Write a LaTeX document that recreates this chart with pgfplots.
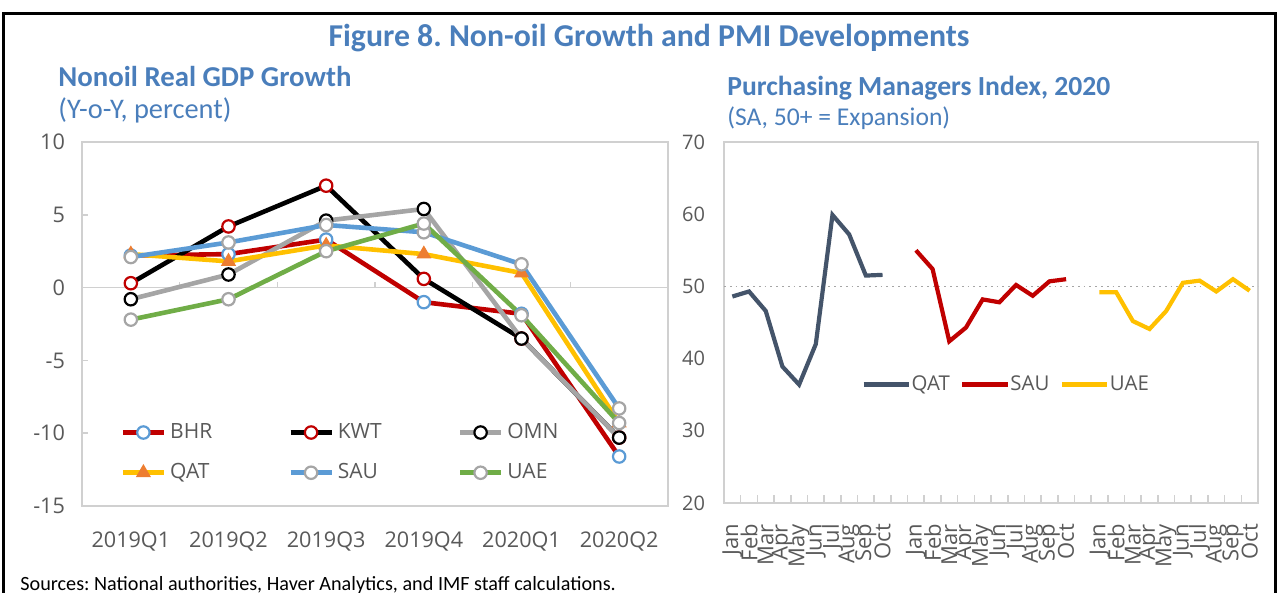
\documentclass[border=0pt]{standalone}
\usepackage{fontspec}
\setmainfont{Carlito}
\newfontfamily\segoe{Open Sans}
\usepackage{pgfplots}
\pgfplotsset{compat=1.18}
\definecolor{titleblue}{HTML}{4A7EBB}
\definecolor{axisgray}{HTML}{D0D0D0}
\definecolor{ticktext}{HTML}{595959}
\definecolor{cRed}{HTML}{C00000}
\definecolor{cBlue}{HTML}{5B9BD5}
\definecolor{cGray}{HTML}{A5A5A5}
\definecolor{cYellow}{HTML}{FFC000}
\definecolor{cOrange}{HTML}{ED7D31}
\definecolor{cGreen}{HTML}{70AD47}
\definecolor{cSlate}{HTML}{44546A}
\frenchspacing
\begin{document}
\begin{tikzpicture}
\useasboundingbox (0,0) rectangle (639pt,-296.5pt);
\draw[line width=1.5pt] (1.5pt,-305pt) -- (1.5pt,-7pt) -- (637.5pt,-7pt) -- (637.5pt,-305pt);
\node[anchor=base, text=titleblue, font=\fontsize{15.9}{18}\selectfont\bfseries] at (324.5pt,-23.5pt) {Figure 8. Non-oil Growth and PMI Developments};
\node[anchor=base west, inner sep=0pt, text=titleblue, font=\fontsize{14.4}{16}\selectfont\bfseries] at (29pt,-43.5pt) {Nonoil Real GDP Growth};
\node[anchor=base west, inner sep=0pt, text=titleblue, font=\fontsize{14.2}{16}\selectfont] at (29pt,-59.5pt) {(Y-o-Y, percent)};
\node[anchor=base west, inner sep=0pt, text=titleblue, font=\fontsize{13.8}{16}\selectfont\bfseries] at (363.5pt,-48pt) {Purchasing Managers Index, 2020};
\node[anchor=base west, inner sep=0pt, text=titleblue, font=\fontsize{12.8}{14}\selectfont] at (363.5pt,-63pt) {(SA, 50+ = Expansion)};
\node[anchor=base west, inner sep=0pt, font=\fontsize{10.1}{12}\selectfont] at (10pt,-295pt) {Sources: National authorities, Haver Analytics, and IMF staff calculations.};

\begin{axis}[
  at={(41pt,-253pt)}, anchor=south west, scale only axis,
  width=293pt, height=182pt,
  xmin=-0.5, xmax=5.5, ymin=-15, ymax=10,
  xtick={0,...,5},
  xticklabels={2019Q1,2019Q2,2019Q3,2019Q4,2020Q1,2020Q2},
  ytick={-15,-10,...,10},
  axis line style={draw=axisgray, line width=0.8pt},
  x tick style={draw=none},
  y tick style={draw=axisgray, line width=0.8pt},
  tick align=inside, ytick pos=left, major tick length=3pt,
  /pgf/number format/assume math mode=true,
  ticklabel style={font=\segoe\fontsize{10.8}{12}\selectfont, text=ticktext},
  xticklabel style={yshift=-9.5pt},
  yticklabel style={xshift=-5pt},
  every axis plot/.append style={line width=2.3pt, mark size=3.1pt},
  legend columns=3,
  legend cell align=left,
  legend style={draw=none, fill=none, at={(0.055,0.25)}, anchor=north west,
    font=\segoe\fontsize{10.5}{12}\selectfont, text=ticktext, row sep=7pt,
    /tikz/every even column/.append style={column sep=36pt}},
  legend image code/.code={\draw[mark repeat=2,mark phase=2,#1] plot coordinates {(0cm,0cm) (0.36cm,0cm) (0.72cm,0cm)};},
]
\draw[axisgray, line width=0.8pt] (axis cs:-0.5,0) -- (axis cs:5.5,0);
\pgfplotsinvokeforeach{0.5,1.5,2.5,3.5,4.5}{\draw[axisgray, line width=0.8pt] (axis cs:#1,0) -- (axis cs:#1,0.4);}
\addplot[cRed, mark=*, mark options={solid, fill=white, draw=cBlue, line width=1.1pt}] coordinates {(0,2.2) (1,2.3) (2,3.3) (3,-1.0) (4,-1.8) (5,-11.6)};
\addlegendentry{BHR}
\addplot[black, mark=*, mark options={solid, fill=white, draw=cRed, line width=1.1pt}] coordinates {(0,0.3) (1,4.2) (2,7.0) (3,0.6) (4,-3.5) (5,-10.3)};
\addlegendentry{KWT}
\addplot[cGray, mark=*, mark options={solid, fill=white, draw=black, line width=1.1pt}] coordinates {(0,-0.8) (1,0.9) (2,4.6) (3,5.4) (4,-3.5) (5,-10.3)};
\addlegendentry{OMN}
\addplot[cYellow, mark=triangle*, mark options={solid, fill=cOrange, draw=cOrange, line width=0.5pt, scale=1.25}] coordinates {(0,2.3) (1,1.8) (2,2.9) (3,2.3) (4,1.0) (5,-9.3)};
\addlegendentry{QAT}
\addplot[cBlue, mark=*, mark options={solid, fill=white, draw=cGray, line width=1.1pt}] coordinates {(0,2.1) (1,3.1) (2,4.3) (3,3.8) (4,1.6) (5,-8.3)};
\addlegendentry{SAU}
\addplot[cGreen, mark=*, mark options={solid, fill=white, draw=cGray, line width=1.1pt}] coordinates {(0,-2.2) (1,-0.8) (2,2.5) (3,4.4) (4,-1.9) (5,-9.3)};
\addlegendentry{UAE}
\end{axis}

\begin{axis}[
  at={(362pt,-251.5pt)}, anchor=south west, scale only axis,
  width=267pt, height=180.5pt,
  xmin=-0.5, xmax=31.5, ymin=20, ymax=70,
  xtick={0,...,31},
  xticklabels={Jan,Feb,Mar,Apr,May,Jun,Jul,Aug,Sep,Oct,{},Jan,Feb,Mar,Apr,May,Jun,Jul,Aug,Sep,Oct,{},Jan,Feb,Mar,Apr,May,Jun,Jul,Aug,Sep,Oct},
  minor xtick={0.5,1.5,...,30.5},
  ytick={20,30,...,70},
  axis line style={draw=axisgray, line width=0.8pt},
  major tick style={draw=none},
  minor tick style={draw=axisgray, line width=0.8pt},
  minor tick length=4pt, tick align=inside, xtick pos=bottom, ytick pos=left,
  /pgf/number format/assume math mode=true,
  ticklabel style={font=\segoe\fontsize{10}{12}\selectfont, text=ticktext},
  xticklabel style={rotate=90, anchor=east, xshift=-7pt, font=\segoe\fontsize{11}{12}\selectfont},
  yticklabel style={xshift=-6pt},
  every axis plot/.append style={line width=2.1pt, no marks},
  legend columns=3,
  legend style={draw=none, fill=none, at={(0.53,0.327)}, anchor=center,
    font=\segoe\fontsize{10.2}{12}\selectfont, text=ticktext,
    /tikz/every even column/.append style={column sep=3pt},
    /tikz/every odd column/.append style={column sep=-2pt}},
  legend image code/.code={\draw[#1, line width=2.5pt] (0cm,0cm) -- (0.8cm,0cm);},
]
\draw[cGray, dotted, line width=0.9pt] (axis cs:-0.5,50) -- (axis cs:31.5,50);
\addplot[cSlate] coordinates {(0,48.6) (1,49.3) (2,46.6) (3,38.9) (4,36.4) (5,42.0) (6,59.9) (7,57.2) (8,51.5) (9,51.6)};
\addlegendentry{QAT}
\addplot[cRed] coordinates {(11,55.0) (12,52.4) (13,42.4) (14,44.3) (15,48.2) (16,47.8) (17,50.2) (18,48.7) (19,50.7) (20,51.0)};
\addlegendentry{SAU}
\addplot[cYellow] coordinates {(22,49.2) (23,49.2) (24,45.2) (25,44.1) (26,46.6) (27,50.5) (28,50.8) (29,49.3) (30,51.0) (31,49.4)};
\addlegendentry{UAE}
\end{axis}
\end{tikzpicture}
\end{document}
